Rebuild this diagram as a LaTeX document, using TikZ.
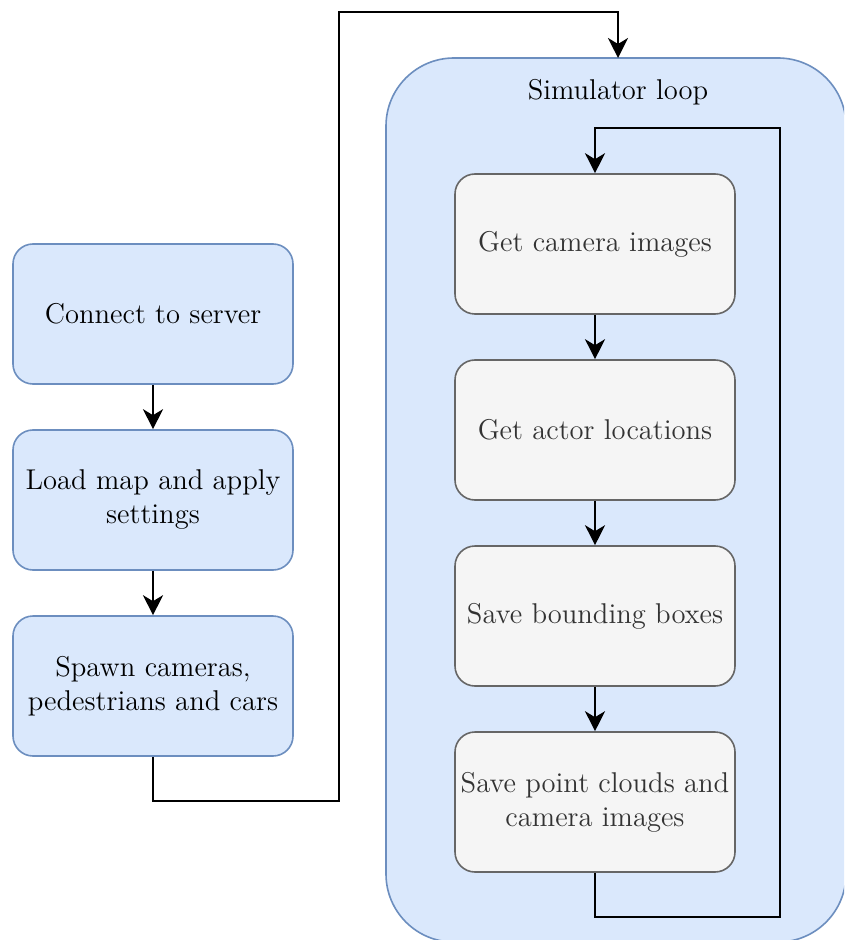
\documentclass[tikz,border=0pt]{standalone}
\usetikzlibrary{arrows.meta,positioning}
\definecolor{bfill}{HTML}{DAE8FC}
\definecolor{bdraw}{HTML}{6C8EBF}
\definecolor{gfill}{HTML}{F5F5F5}
\definecolor{gdraw}{HTML}{666666}
\definecolor{gtext}{HTML}{333333}
\begin{document}
\begin{tikzpicture}[x=0.5pt,y=-0.5pt,
  font=\fontsize{14.3}{17}\selectfont,
  bluebox/.style={draw=bdraw,fill=bfill,line width=0.8pt,rounded corners=10pt,
    minimum width=140pt,minimum height=70pt,align=center,inner sep=0pt},
  graybox/.style={draw=gdraw,fill=gfill,line width=0.8pt,rounded corners=10pt,
    minimum width=140pt,minimum height=70pt,align=center,inner sep=0pt,text=gtext},
  arr/.style={line width=1pt,-{Stealth[length=10pt,width=10pt,inset=3pt]}}]
\clip (0,0) rectangle (844,940);
\fill[white] (0,0) rectangle (844,940);
% container
\node[draw=bdraw,fill=bfill,line width=0.8pt,rounded corners=34pt,
  minimum width=230pt,minimum height=442pt,inner sep=0pt] (loop) at (616,500) {};
\node (title) at (618,92) {Simulator loop};
% left column
\node[bluebox] (b1) at (153,314) {Connect to server};
\node[bluebox] (b2) at (153,500) {Load map and apply\\settings};
\node[bluebox] (b3) at (153,686) {Spawn cameras,\\pedestrians and cars};
% inner boxes
\node[graybox] (i1) at (595,244) {Get camera images};
\node[graybox] (i2) at (595,430) {Get actor locations};
\node[graybox] (i3) at (595,616) {Save bounding boxes};
\node[graybox] (i4) at (595,802) {Save point clouds and\\camera images};
% connectors
\draw[arr] (b1) -- (b2);
\draw[arr] (b2) -- (b3);
\draw[arr] (i1) -- (i2);
\draw[arr] (i2) -- (i3);
\draw[arr] (i3) -- (i4);
\coordinate (c1) at (339,801);
\coordinate (c2) at (339,12);
\coordinate (tgt) at (618,58);
\draw[arr] (b3.south) |- (c1) -- (c2) -| (tgt);
\coordinate (l1) at (780,917);
\coordinate (l2) at (780,128);
\draw[arr] (i4.south) |- (l1) -- (l2) -| (i1.north);
\end{tikzpicture}
\end{document}
